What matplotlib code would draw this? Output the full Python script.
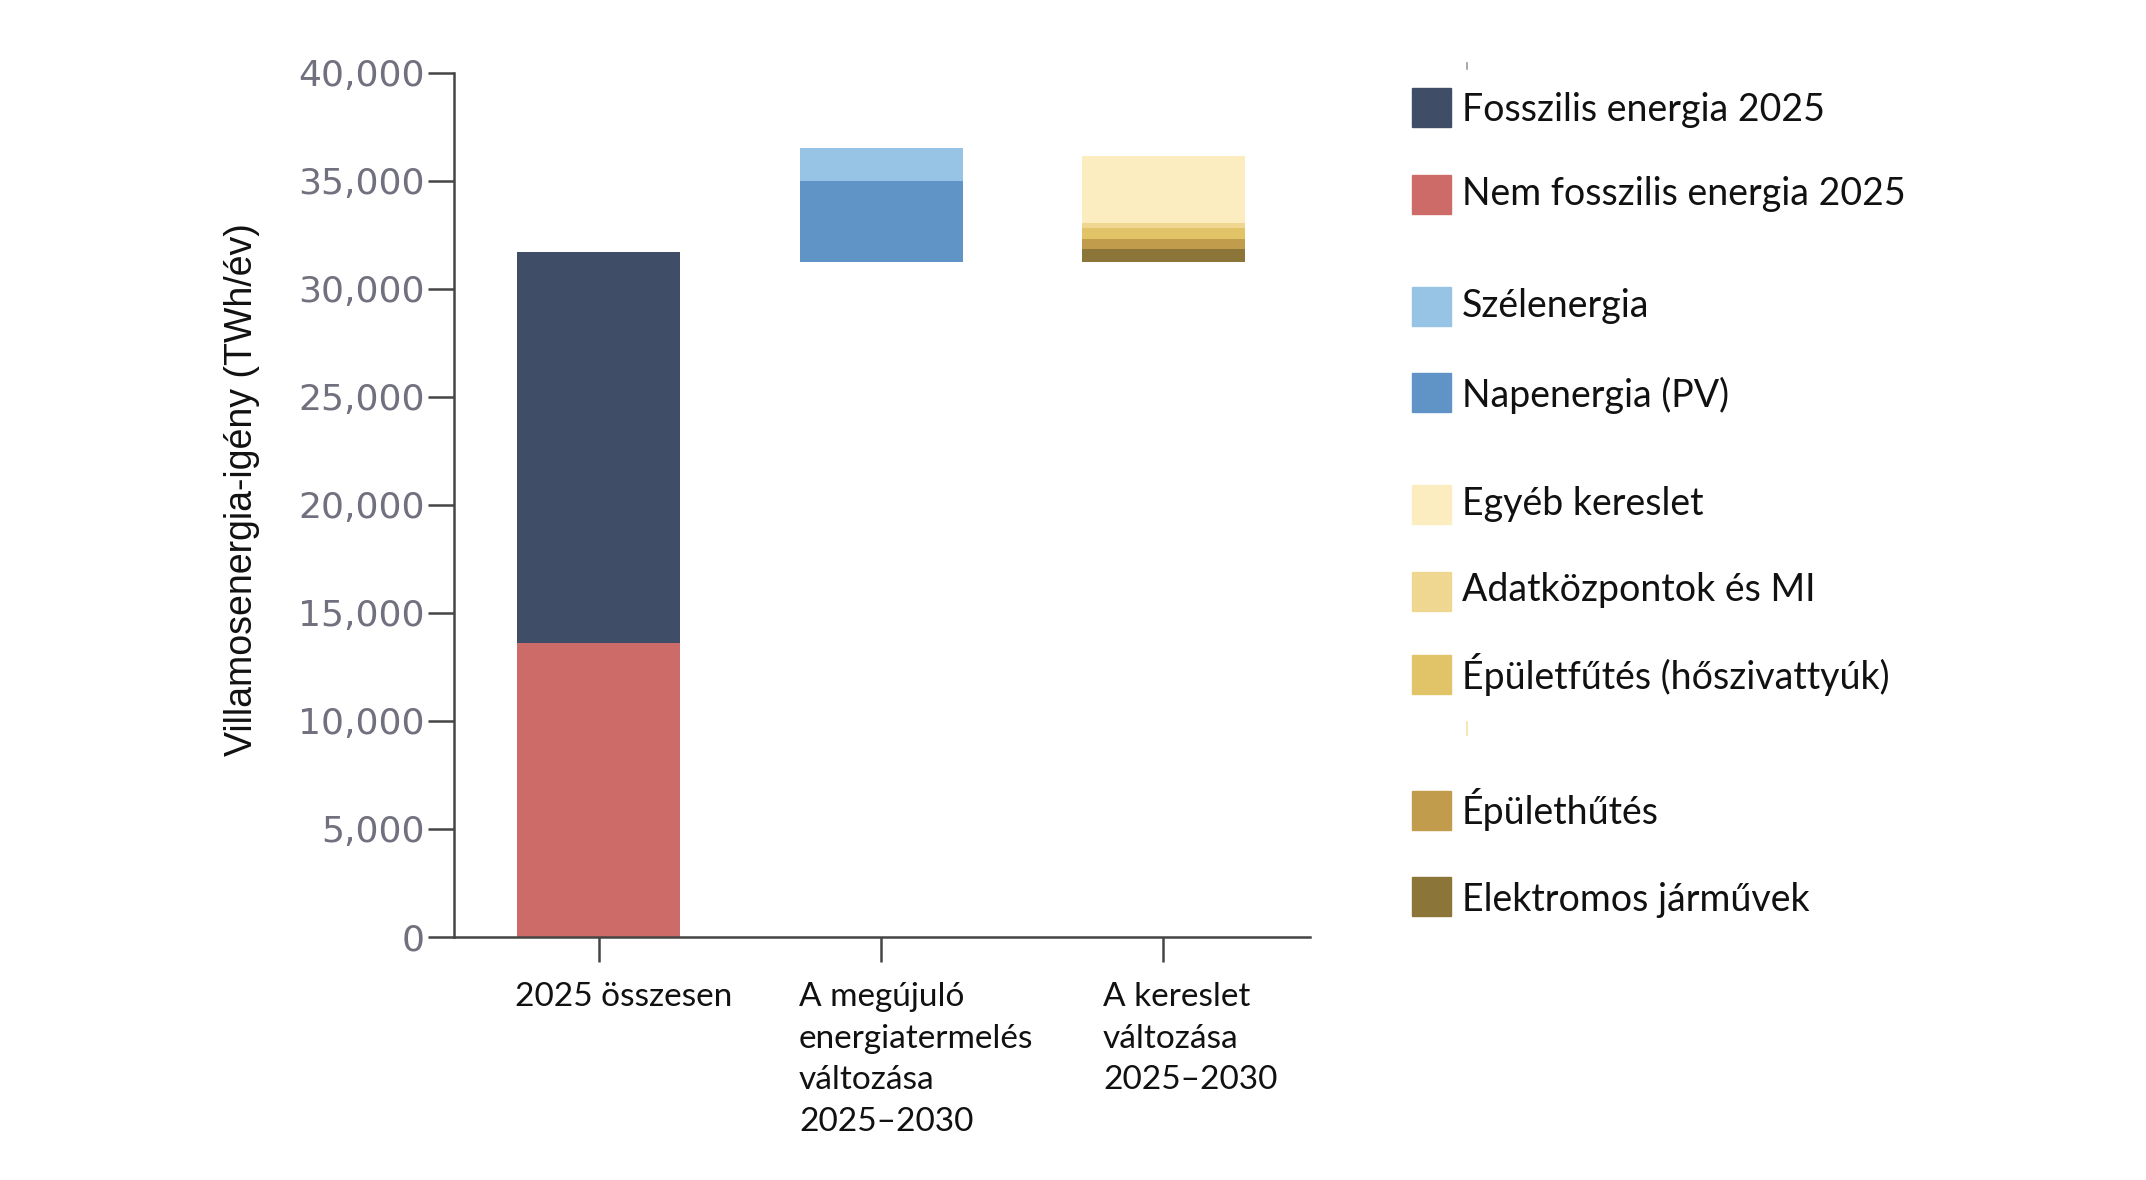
import matplotlib
matplotlib.use("Agg")
import matplotlib.pyplot as plt
from matplotlib.patches import Rectangle
from matplotlib.lines import Line2D
from matplotlib.ticker import FuncFormatter
from matplotlib.transforms import blended_transform_factory

# data (TWh/év)
categories = ["2025 összesen",
              "A megújuló\nenergiatermelés\nváltozása\n2025–2030",
              "A kereslet\nváltozása\n2025–2030"]

non_fossil_2025 = 13600
fossil_2025 = 18100

change_base = 31250          # floating bars start here
solar_pv = 3750
wind = 1550

ev = 600
cooling = 460
heating = 510
datacenters = 230
other_demand = 3100

legend_labels = ["Fosszilis energia 2025", "Nem fosszilis energia 2025",
                 "Szélenergia", "Napenergia (PV)",
                 "Egyéb kereslet", "Adatközpontok és MI",
                 "Épületfűtés (hőszivattyúk)", "Épülethűtés",
                 "Elektromos járművek"]

C_FOSSIL = "#3f4d66"
C_NONFOSSIL = "#cc6b68"
C_WIND = "#97c3e5"
C_PV = "#6094c7"
C_OTHER = "#fcedc0"
C_DATA = "#f0d791"
C_HEAT = "#e1c468"
C_COOL = "#c19c4d"
C_EV = "#8c7538"

legend_colors = [C_FOSSIL, C_NONFOSSIL, C_WIND, C_PV, C_OTHER, C_DATA,
                 C_HEAT, C_COOL, C_EV]

W, H = 2146, 1180
fig = plt.figure(figsize=(W / 100, H / 100), dpi=100)
ax = fig.add_axes([454 / W, 1 - 937 / H, (1310 - 454) / W, (937 - 73) / H])

bw = 0.578
x = [0, 1, 2]

# 2025 total
ax.bar(x[0], non_fossil_2025, bw, color=C_NONFOSSIL)
ax.bar(x[0], fossil_2025, bw, bottom=non_fossil_2025, color=C_FOSSIL)

# renewable generation change
ax.bar(x[1], solar_pv, bw, bottom=change_base, color=C_PV)
ax.bar(x[1], wind, bw, bottom=change_base + solar_pv, color=C_WIND)

# demand change
bottom = change_base
for val, col in [(ev, C_EV), (cooling, C_COOL), (heating, C_HEAT),
                 (datacenters, C_DATA), (other_demand, C_OTHER)]:
    ax.bar(x[2], val, bw, bottom=bottom, color=col)
    bottom += val

ax.set_xlim(-0.514, 2.521)
ax.set_ylim(0, 40000)
ax.set_yticks(range(0, 40001, 5000))
ax.yaxis.set_major_formatter(FuncFormatter(lambda v, p: f"{int(v):,}"))
ax.set_xticks(x)
ax.set_xticklabels([])

for s in ["top", "right"]:
    ax.spines[s].set_visible(False)
for s in ["left", "bottom"]:
    ax.spines[s].set_color("#454545")
    ax.spines[s].set_linewidth(1.8)

ax.tick_params(axis="y", length=19, width=1.8, color="#454545", pad=2,
               labelsize=26, labelcolor="#70707e")
ax.tick_params(axis="x", length=18, width=1.8, color="#454545")
for lab in ax.get_yticklabels():
    lab.set_family("DejaVu Sans")

# category labels, left aligned under the bars
label_offsets = [-0.298, -0.291, -0.213]
trans = blended_transform_factory(ax.transData, ax.transAxes)
for xi, off, txt in zip(x, label_offsets, categories):
    ax.text(xi + off, -0.052, txt, transform=trans, ha="left", va="top",
            fontsize=24, family="Lato", color="#111111", linespacing=1.49,
            clip_on=False)

fig.text(242 / W, 1 - 490 / H, "Villamosenergia-igény (TWh/év)",
         rotation=90, ha="center", va="center", fontsize=27,
         family="Liberation Sans", color="#111111")

# legend drawn by hand (uneven row gaps in the original)
row_y = [107, 194, 306, 392, 504, 591, 674, 810, 896]
text_y = [106, 190, 303, 392, 501, 587, 671, 806, 897]
sq = 39
for yy, ty, lab, col in zip(row_y, text_y, legend_labels, legend_colors):
    fig.add_artist(Rectangle((1412 / W, 1 - (yy + sq / 2) / H), sq / W, sq / H,
                             transform=fig.transFigure, color=col))
    fig.text(1462 / W, 1 - ty / H, lab, ha="left", va="center_baseline",
             fontsize=27, family="Lato", color="#111111")

# two faint stray marks present in the original image
fig.add_artist(Line2D([1467 / W, 1467 / W], [1 - 63 / H, 1 - 69 / H],
                      transform=fig.transFigure, color="#9a9a9a", lw=1.2))
fig.add_artist(Line2D([1467 / W, 1467 / W], [1 - 722 / H, 1 - 735 / H],
                      transform=fig.transFigure, color="#f3e3a6", lw=1.2))

fig.savefig("out.png", dpi=100, facecolor="white")
